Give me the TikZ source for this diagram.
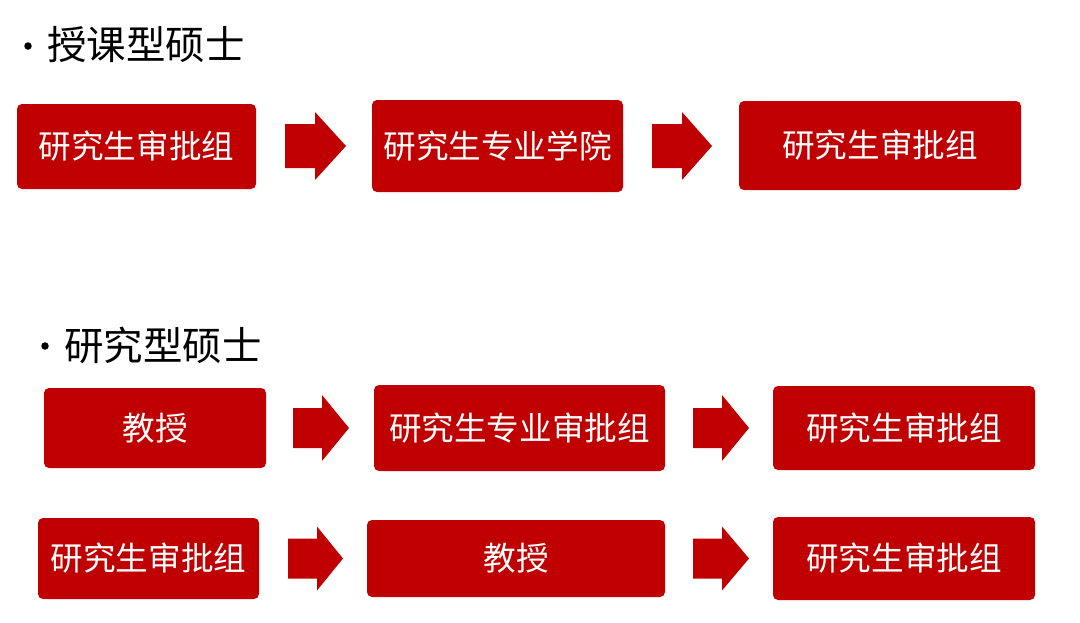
\documentclass[tikz,border=0pt]{standalone}
\usepackage{fontspec}
\newfontfamily\cjk{Noto Sans CJK SC}
\definecolor{boxred}{HTML}{C00000}
\tikzset{
  box/.style={fill=boxred, draw=none, rounded corners=5pt, text=white, font=\cjk\fontsize{32.6}{36}\selectfont, inner sep=0pt},
  head/.style={font=\cjk\fontsize{39.5}{42}\selectfont, anchor=west, inner sep=0pt},
  blk/.style={fill=boxred, draw=none},
  dot/.style={circle, fill=black, inner sep=0pt, minimum size=7.5pt}
}
\newcommand{\blockarrow}[6]{% x0, xh, xt, yc, shaft half, head half
  \fill[blk] (#1,#4-#5) -- (#2,#4-#5) -- (#2,#4-#6) -- (#3,#4) -- (#2,#4+#6) -- (#2,#4+#5) -- (#1,#4+#5) -- cycle;}
\begin{document}
\begin{tikzpicture}[x=1pt,y=-1pt]
\useasboundingbox (0,0) rectangle (1080,622);
% headers
\node[dot] (b1) at (28,46) {};
\node[head] (h1) at (47,45) {授课型硕士};
\node[dot] (b2) at (45,346) {};
\node[head] (h2) at (64,345) {研究型硕士};
% row 1
\path[box] (17,104) rectangle (256,189);
\node[box,fill=none] (a) at (136.5,146.5) {研究生审批组};
\path[box] (372,100) rectangle (623,192);
\node[box,fill=none] (b) at (497.5,146) {研究生专业学院};
\path[box] (739,101) rectangle (1021,190);
\node[box,fill=none] (c) at (880,145.5) {研究生审批组};
\blockarrow{285}{315}{346}{146}{22}{34}
\blockarrow{652}{682}{712}{146}{22}{34}
% row 2
\path[box] (44,388) rectangle (266,468);
\node[box,fill=none] (d) at (155,428) {教授};
\path[box] (374,385) rectangle (665,471);
\node[box,fill=none] (e) at (519.5,428) {研究生专业审批组};
\path[box] (773,386) rectangle (1035,470);
\node[box,fill=none] (f) at (904,428) {研究生审批组};
\blockarrow{293}{322}{349}{428}{20}{33}
\blockarrow{693}{722}{749}{428}{20}{33}
% row 3
\path[box] (38,518) rectangle (259,599);
\node[box,fill=none] (g) at (148.5,558.5) {研究生审批组};
\path[box] (367,520) rectangle (665,597);
\node[box,fill=none] (h) at (516,558.5) {教授};
\path[box] (773,517) rectangle (1035,600);
\node[box,fill=none] (i) at (904,558.5) {研究生审批组};
\blockarrow{288}{317}{343}{558.5}{20}{32}
\blockarrow{693}{722}{749}{558.5}{20}{32}
\end{tikzpicture}
\end{document}
